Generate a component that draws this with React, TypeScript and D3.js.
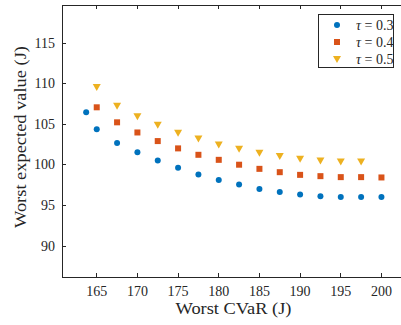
import React from "react";
import * as d3 from "d3";

const xTicks = [165, 170, 175, 180, 185, 190, 195, 200];
const yTicks = [90, 95, 100, 105, 110, 115];

const x03 = [163.7, 165, 167.5, 170, 172.5, 175, 177.5, 180, 182.5, 185, 187.5, 190, 192.5, 195, 197.5, 200];
const y03 = [106.5, 104.4, 102.7, 101.55, 100.55, 99.65, 98.83, 98.16, 97.6, 97.05, 96.68, 96.35, 96.15, 96.06, 96.05, 96.05];

const x04 = [165, 167.5, 170, 172.5, 175, 177.5, 180, 182.5, 185, 187.5, 190, 192.5, 195, 197.5, 200];
const y04 = [107.1, 105.25, 104.0, 102.94, 102.04, 101.25, 100.63, 100.03, 99.52, 99.11, 98.78, 98.62, 98.5, 98.5, 98.46];

const x05 = [165, 167.5, 170, 172.5, 175, 177.5, 180, 182.5, 185, 187.5, 190, 192.5, 195, 197.5];
const y05 = [109.6, 107.3, 106.0, 104.96, 103.97, 103.27, 102.53, 101.99, 101.5, 101.09, 100.76, 100.56, 100.43, 100.43];

const seriesLabels = ["0.3", "0.4", "0.5"];
const colors = ["#0072BD", "#D95319", "#EDB120"];

const W = 401;
const H = 325;
const L = 62, R = 403, T = 5, B = 277;

const font = "'Liberation Serif', 'DejaVu Serif', serif";

function Marker({ kind, cx, cy, color }: { kind: number; cx: number; cy: number; color: string }) {
  if (kind === 0) return <circle cx={cx} cy={cy} r={3} fill={color} />;
  if (kind === 1) return <rect x={cx - 3} y={cy - 3} width={6} height={6} fill={color} />;
  return <path d={`M${cx - 4},${cy - 3}L${cx + 4},${cy - 3}L${cx},${cy + 4}Z`} fill={color} />;
}

export default function App() {
  const x = d3.scaleLinear().domain([160.73, 202.65]).range([L, R]);
  const y = d3.scaleLinear().domain([86.2, 119.7]).range([B, T]);
  const series = [
    { xs: x03, ys: y03 },
    { xs: x04, ys: y04 },
    { xs: x05, ys: y05 },
  ];
  const axisColor = "#262626";
  return (
    <svg width={W} height={H} style={{ position: "absolute", left: 0, top: 0, background: "#fff" }}>
      <rect width={W} height={H} fill="#fff" />
      {series.map((s, i) =>
        s.xs.map((xv, j) => (
          <Marker key={`${i}-${j}`} kind={i} cx={x(xv)} cy={y(s.ys[j])} color={colors[i]} />
        ))
      )}
      <g stroke={axisColor} strokeWidth={1} fill="none" shapeRendering="crispEdges">
        <line x1={L} y1={T} x2={W} y2={T} />
        <line x1={L} y1={B} x2={W} y2={B} />
        <line x1={L} y1={T} x2={L} y2={B} />
        {xTicks.map((t) => (
          <g key={t}>
            <line x1={x(t)} x2={x(t)} y1={B} y2={B - 4} />
            <line x1={x(t)} x2={x(t)} y1={T} y2={T + 4} />
          </g>
        ))}
        {yTicks.map((t) => (
          <line key={t} x1={L} x2={L + 4} y1={y(t)} y2={y(t)} />
        ))}
      </g>
      <g fontFamily={font} fontSize={14} fill="#262626">
        {xTicks.map((t) => (
          <text key={t} x={x(t)} y={296} textAnchor="middle">{t}</text>
        ))}
        {yTicks.map((t) => (
          <text key={t} x={55} y={y(t) + 4.5} textAnchor="end">{t}</text>
        ))}
        <text x={233.5} y={314} textAnchor="middle" fontSize={16} textLength={116} lengthAdjust="spacingAndGlyphs">
          Worst CVaR (J)
        </text>
        <text transform={`translate(25.5,137) rotate(-90)`} textAnchor="middle" fontSize={16} textLength={182} lengthAdjust="spacingAndGlyphs">
          Worst expected value (J)
        </text>
      </g>
      <g>
        <rect x={318.5} y={14.5} width={75} height={53} fill="#fff" stroke={axisColor} strokeWidth={1} shapeRendering="crispEdges" />
        {seriesLabels.map((lab, i) => (
          <g key={lab}>
            <Marker kind={i} cx={337} cy={25 + i * 17} color={colors[i]} />
            <text x={356} y={30 + i * 17} fontFamily={font} fontSize={14} fill="#262626">
              <tspan fontStyle="italic">τ</tspan>
              <tspan> = {lab}</tspan>
            </text>
          </g>
        ))}
      </g>
    </svg>
  );
}
